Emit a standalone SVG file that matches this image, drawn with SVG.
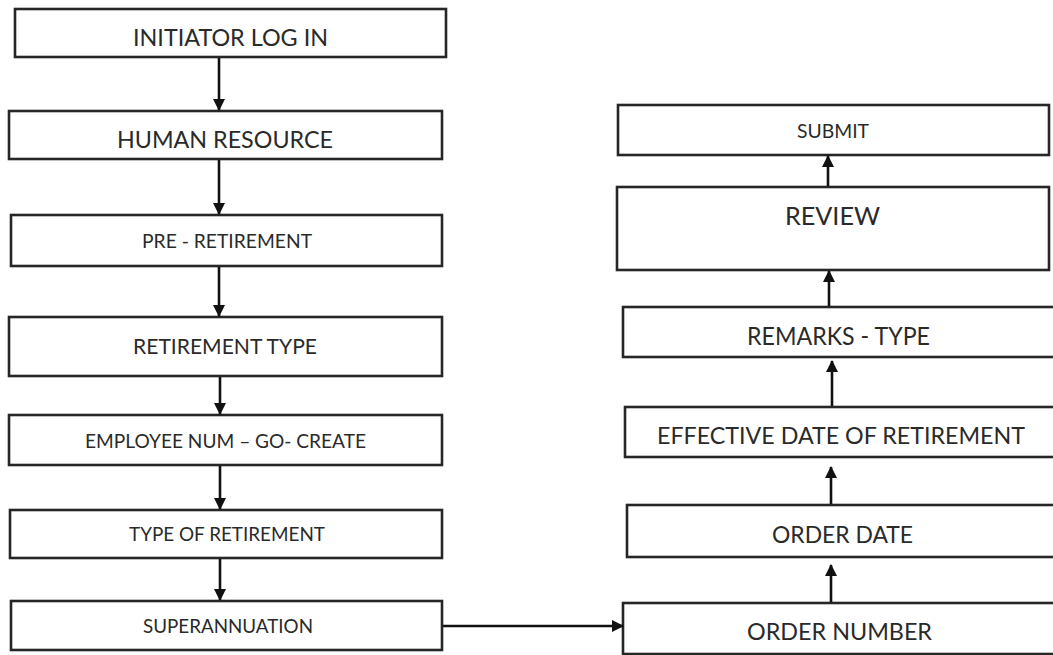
<svg xmlns="http://www.w3.org/2000/svg" width="1053" height="655" viewBox="0 0 1053 655">
  <style>
    .box { fill: #ffffff; stroke: #262626; stroke-width: 2.6; }
    .lbl { font-family: Lato, "Open Sans", "Liberation Sans", sans-serif; fill: #2a2a2a; }
    .edge { stroke: #111111; stroke-width: 2.6; fill: none; marker-end: url(#head); }
  </style>
  <defs>
    <marker id="head" viewBox="0 0 12 12" refX="11" refY="6" markerWidth="12" markerHeight="12" markerUnits="userSpaceOnUse" orient="auto">
      <path d="M0,0 L12,6 L0,12 Z" fill="#111111"/>
    </marker>
  </defs>
  <rect width="1053" height="655" fill="#ffffff"/>

  <!-- left column: steps flowing downwards -->
  <g id="n-initiator">
    <rect class="box" x="15" y="9" width="431" height="48"/>
    <text class="lbl" x="133" y="46" font-size="24" textLength="195" lengthAdjust="spacingAndGlyphs">INITIATOR LOG IN</text>
  </g>
  <g id="n-human-resource">
    <rect class="box" x="9" y="111" width="433" height="48"/>
    <text class="lbl" x="117" y="148" font-size="24" textLength="216" lengthAdjust="spacingAndGlyphs">HUMAN RESOURCE</text>
  </g>
  <g id="n-pre-retirement">
    <rect class="box" x="11" y="215" width="431" height="51"/>
    <text class="lbl" x="142" y="248" font-size="20" textLength="170" lengthAdjust="spacingAndGlyphs">PRE - RETIREMENT</text>
  </g>
  <g id="n-retirement-type">
    <rect class="box" x="9" y="317" width="433" height="59"/>
    <text class="lbl" x="133" y="354" font-size="22" textLength="184" lengthAdjust="spacingAndGlyphs">RETIREMENT TYPE</text>
  </g>
  <g id="n-employee-num">
    <rect class="box" x="9" y="415" width="433" height="50"/>
    <text class="lbl" x="85" y="448" font-size="20" textLength="281" lengthAdjust="spacingAndGlyphs">EMPLOYEE NUM – GO- CREATE</text>
  </g>
  <g id="n-type-of-retirement">
    <rect class="box" x="10" y="510" width="432" height="48"/>
    <text class="lbl" x="129" y="541" font-size="20" textLength="196" lengthAdjust="spacingAndGlyphs">TYPE OF RETIREMENT</text>
  </g>
  <g id="n-superannuation">
    <rect class="box" x="11" y="601" width="431" height="49"/>
    <text class="lbl" x="143" y="633" font-size="20" textLength="170" lengthAdjust="spacingAndGlyphs">SUPERANNUATION</text>
  </g>

  <!-- right column: steps flowing upwards -->
  <g id="n-submit">
    <rect class="box" x="618" y="105" width="431" height="50"/>
    <text class="lbl" x="797" y="138" font-size="20" textLength="72" lengthAdjust="spacingAndGlyphs">SUBMIT</text>
  </g>
  <g id="n-review">
    <rect class="box" x="617" y="187" width="432" height="83"/>
    <text class="lbl" x="785" y="225" font-size="25" textLength="95" lengthAdjust="spacingAndGlyphs">REVIEW</text>
  </g>
  <g id="n-remarks-type">
    <rect class="box" x="623" y="307" width="435" height="50"/>
    <text class="lbl" x="747" y="345" font-size="25" textLength="183" lengthAdjust="spacingAndGlyphs">REMARKS - TYPE</text>
  </g>
  <g id="n-effective-date">
    <rect class="box" x="625" y="407" width="433" height="50"/>
    <text class="lbl" x="657" y="444" font-size="24" textLength="368" lengthAdjust="spacingAndGlyphs">EFFECTIVE DATE OF RETIREMENT</text>
  </g>
  <g id="n-order-date">
    <rect class="box" x="627" y="505" width="431" height="52"/>
    <text class="lbl" x="772" y="543" font-size="23" textLength="141" lengthAdjust="spacingAndGlyphs">ORDER DATE</text>
  </g>
  <g id="n-order-number">
    <rect class="box" x="623" y="603" width="435" height="51"/>
    <text class="lbl" x="747" y="640" font-size="24" textLength="185" lengthAdjust="spacingAndGlyphs">ORDER NUMBER</text>
  </g>

  <!-- connectors -->
  <g id="edges">
    <line class="edge" x1="219" y1="58" x2="219" y2="110"/>
    <line class="edge" x1="219" y1="160" x2="219" y2="214"/>
    <line class="edge" x1="219" y1="267" x2="219" y2="316"/>
    <line class="edge" x1="220" y1="377" x2="220" y2="414"/>
    <line class="edge" x1="220" y1="466" x2="220" y2="509"/>
    <line class="edge" x1="220" y1="559" x2="220" y2="600"/>
    <line class="edge" x1="443" y1="626" x2="623" y2="626"/>
    <line class="edge" x1="831" y1="602" x2="831" y2="565"/>
    <line class="edge" x1="831" y1="504" x2="831" y2="467"/>
    <line class="edge" x1="832" y1="406" x2="832" y2="361"/>
    <line class="edge" x1="829" y1="306" x2="829" y2="271"/>
    <line class="edge" x1="828" y1="186" x2="828" y2="156"/>
  </g>
</svg>
